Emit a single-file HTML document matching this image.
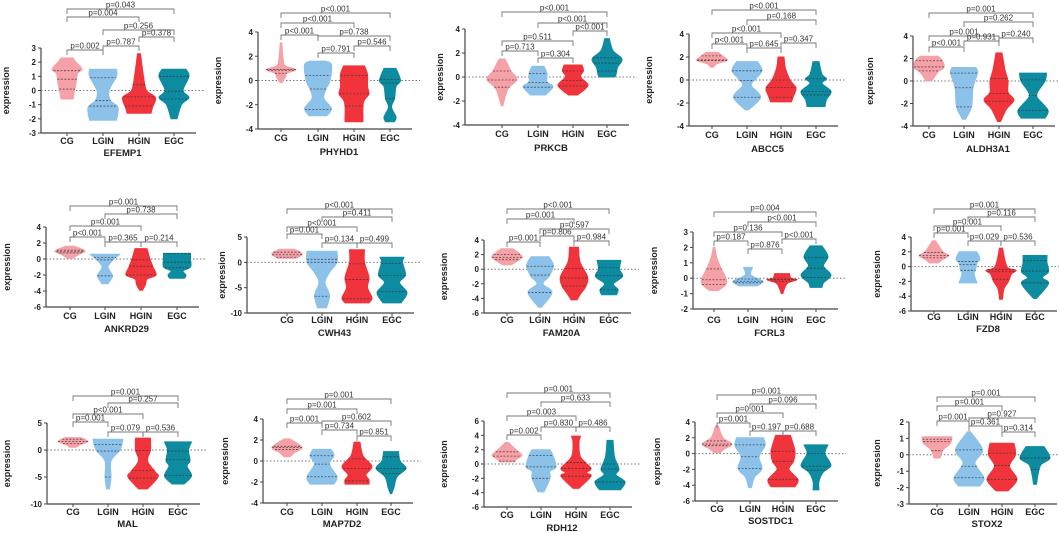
<!DOCTYPE html>
<html><head><meta charset="utf-8">
<style>
html,body{margin:0;padding:0;background:#fff;}
svg{display:block;font-family:"Liberation Sans",Arial,sans-serif;}
</style></head>
<body>
<svg id="fig" width="1059" height="533" viewBox="0 0 1059 533"></svg>
<script>
const categories = ["CG","LGIN","HGIN","EGC"];
const colors = ["#f6a0a8","#8cc1ea","#f1343c","#0c8ba1"];
const genes = ["EFEMP1","PHYHD1","PRKCB","ABCC5","ALDH3A1","ANKRD29","CWH43","FAM20A","FCRL3","FZD8","MAL","MAP7D2","RDH12","SOSTDC1","STOX2"];

// violin profiles: [value, relative half-width] per group
const EFEMP1_shapes = [
 [[2.3,0.4],[2.0,0.6],[1.5,1],[1.2,0.7],[0.5,0.6],[0,0.5],[-0.6,0.4]],
 [[1.5,0.9],[1.0,0.9],[0,0.4],[-0.7,0.5],[-1.2,1],[-2.1,0.9]],
 [[2.6,0.1],[1,0.3],[0,0.5],[-0.5,1.1],[-1.2,0.9],[-1.6,0.8]],
 [[1.5,0.8],[1,1],[0,0.6],[-0.5,1],[-1,0.5],[-2,0.2]]];
const EFEMP1_quart = [[1.4,0.8,0.1],[0.9,-0.7,-1.1],[0.4,-0.45,-1.1],[1,-0.05,-0.6]];
const PHYHD1_shapes = [
 [[3.1,0.05],[1.7,0.15],[1.2,0.3],[0.9,1],[0.6,0.4],[0.3,0.3],[-0.2,0.05]],
 [[1.6,0.5],[1.3,0.9],[0,0.8],[-0.8,0.5],[-1.5,0.4],[-2.3,0.9],[-2.9,0.6]],
 [[1.2,0.7],[0.5,0.9],[-0.5,0.9],[-1.1,1],[-1.6,0.7],[-2.1,0.6],[-3.4,0.6]],
 [[1,0.4],[0,0.7],[-0.5,0.4],[-1.5,0.3],[-2.2,0.1],[-3,0.4],[-3.4,0.3]]];
const PHYHD1_quart = [[0.9,0.85,0.6],[0.4,-0.7,-2.4],[0.4,-1.1,-2.1],[0.1,-0.2,-1.5]];
const PRKCB_shapes = [
 [[1.5,0.2],[0.5,0.6],[-0.2,1],[-1,0.4],[-2.4,0.05]],
 [[0.9,0.4],[0.3,0.6],[-0.4,0.6],[-0.8,1],[-1.5,0.5]],
 [[1,0.6],[0.5,0.7],[0,0.5],[-0.7,1],[-1.5,0.3]],
 [[3.2,0.15],[2.2,0.4],[1.5,1],[0.8,0.7],[0.2,0.6],[0,0.5]]];
const PRKCB_quart = [[0.5,-0.25,-0.85],[0.3,-0.45,-0.85],[0.5,-0.3,-0.75],[1.6,1.15,0.5]];
const ABCC5_shapes = [
 [[2.4,0.4],[2,0.8],[1.7,1],[1.4,0.3],[1.1,0.1]],
 [[1.6,0.7],[0.8,1],[0,0.5],[-0.5,0.3],[-1.5,0.9],[-2.6,0.1]],
 [[2,0.2],[1,0.3],[0,0.6],[-0.7,1],[-1.5,0.8],[-1.9,0.7]],
 [[1.6,0.2],[0.5,0.4],[0.1,0.7],[-0.3,0.4],[-1,1],[-1.7,0.7],[-2.3,0.6]]];
const ABCC5_quart = [[2.1,1.75,1.7],[0.8,-0.05,-1.5],[0,-0.65,-1.5],[0.1,-1,-1.3]];
const ALDH3A1_shapes = [
 [[2.2,0.6],[1.8,0.9],[1.2,1],[0.8,0.6],[0,0.2]],
 [[1.2,0.8],[0.7,0.9],[-0.6,0.6],[-2.3,0.5],[-3.4,0.1]],
 [[2.5,0.2],[1,0.4],[0,0.6],[-1,0.6],[-1.7,1],[-2.5,0.5],[-3.6,0.1]],
 [[0.7,0.9],[0,0.8],[-1,0.3],[-1.5,0.3],[-2.6,1],[-3.3,0.8]]];
const ALDH3A1_quart = [[1.8,1.25,0.9],[0.7,-0.6,-2.3],[0.2,-1.1,-1.8],[0.1,-1.3,-2.6]];
const ANKRD29_shapes = [
 [[1.6,0.3],[1,1],[0.6,0.6],[0.1,0.2]],
 [[0.6,1],[0,0.6],[-1,0.2],[-2.1,0.5],[-3.1,0.2]],
 [[1.3,0.4],[0,0.6],[-1,0.8],[-2,1],[-2.5,0.4],[-3.2,0.3],[-3.9,0.1]],
 [[0.7,0.9],[0,0.9],[-1,0.9],[-1.5,0.4],[-2,0.6],[-2.4,0.5]]];
const ANKRD29_quart = [[1.1,0.9,0.75],[0.2,-0.1,-2.1],[-0.1,-0.9,-2],[0.7,-0.4,-1.1]];
const CWH43_shapes = [
 [[2.6,0.5],[2,0.9],[1.5,1],[0.8,0.6]],
 [[2.2,1],[0,1],[-2,0.5],[-4,0.2],[-6.5,0.5],[-9,0.3]],
 [[2.5,0.5],[0,0.5],[-3,0.8],[-5,0.7],[-7,1],[-8,0.8]],
 [[1,0.8],[0,0.7],[-2.5,0.9],[-4,0.5],[-6,1],[-8,0.6]]];
const CWH43_quart = [[2,1.5,1],[0.6,0,-6.7],[-0.3,-3.4,-7.2],[-0.2,-2.6,-5.8]];
const FAM20A_shapes = [
 [[2.8,0.4],[2,0.9],[1.6,1],[1,0.6],[0.6,0.3]],
 [[1.7,0.6],[0.5,0.9],[-1,0.6],[-2,0.2],[-3.2,0.8],[-5.2,0.1]],
 [[3,0.3],[1,0.4],[-1,0.9],[-2.3,0.8],[-3.5,0.4],[-4.2,0.2]],
 [[1.2,0.8],[0,0.7],[-1,0.9],[-2,0.3],[-2.8,0.6],[-3.5,0.5]]];
const FAM20A_quart = [[2,1.6,1.3],[0.4,-0.8,-3.2],[0.1,-1.2,-2.3],[0.2,-0.9,-2.8]];
const FCRL3_shapes = [
 [[2,0.05],[1.3,0.2],[0.6,0.5],[0,0.8],[-0.4,0.8],[-0.8,0.3]],
 [[0.7,0.3],[0.2,0.2],[-0.2,1],[-0.5,0.6]],
 [[0.3,0.5],[0,0.6],[-0.1,1],[-0.3,0.4],[-0.6,0.2],[-1,0.05]],
 [[2.1,0.4],[1.4,0.8],[0.8,0.5],[0.2,1],[-0.3,0.5],[-0.6,0.4]]];
const FCRL3_quart = [[0.6,-0.1,-0.4],[-0.05,-0.2,-0.3],[-0.05,-0.1,-0.2],[1.35,0.65,0.05]];
const FZD8_shapes = [
 [[3.5,0.1],[2,0.6],[1.5,1],[1,0.6],[0.5,0.3]],
 [[2,0.6],[1,0.8],[0.5,0.6],[-0.5,0.5],[-1,0.4],[-2.2,0.6]],
 [[2.5,0.1],[0,0.4],[-0.5,1],[-1,0.7],[-2,0.5],[-3,0.2],[-4.4,0.1]],
 [[1.5,0.8],[0.5,0.8],[-0.7,0.9],[-1.5,0.5],[-2.3,0.9],[-4.3,0.1]]];
const FZD8_quart = [[1.9,1.5,1.2],[0.7,0.3,-0.5],[-0.4,-0.7,-1.7],[0.8,-0.6,-2.2]];
const MAL_shapes = [
 [[2.3,0.5],[1.6,1],[1,0.5],[0.5,0.2]],
 [[2,1],[0,0.8],[-2,0.2],[-5,0.2],[-7.2,0.1]],
 [[2.2,0.5],[0,0.5],[-2,0.3],[-4,0.8],[-5,1],[-7.2,0.3]],
 [[1.5,0.9],[0,0.7],[-2,0.8],[-3,0.6],[-4.8,0.9],[-6.3,0.4]]];
const MAL_quart = [[2,1.6,1.2],[1,-0.2,-5],[-0.1,-3.8,-5.2],[-0.2,-1.8,-4.7]];
const MAP7D2_shapes = [
 [[2.1,0.2],[1.3,1],[0.8,0.5],[0.4,0.2]],
 [[1.1,0.6],[0.5,0.8],[-0.3,0.5],[-1.5,1],[-2.2,0.8]],
 [[1.8,0.2],[0.5,0.4],[-0.5,1],[-1.3,0.6],[-1.8,0.8],[-2.2,0.8]],
 [[0.9,0.5],[0,0.6],[-0.7,1],[-1.5,0.4],[-2.5,0.2],[-3.1,0.05]]];
const MAP7D2_quart = [[1.4,1.3,1.1],[0.5,-0.3,-1.5],[0.2,-0.7,-1.9],[0.4,-0.7,-1.2]];
const RDH12_shapes = [
 [[3,0.1],[1.8,0.7],[1.2,1],[0.6,0.6],[0.3,0.5]],
 [[2,0.6],[1.2,0.8],[-0.4,1],[-1,0.6],[-2,0.6],[-3.9,0.2]],
 [[3.9,0.3],[3,0.2],[1,0.3],[-0.6,1],[-1.2,0.7],[-1.7,1],[-3.4,0.2]],
 [[3.3,0.2],[1,0.3],[-0.7,0.6],[-1.5,0.4],[-2.5,1],[-3.6,0.7]]];
const RDH12_quart = [[1.7,1.1,0.4],[1.2,-0.4,-2],[0.2,-0.6,-1.7],[0,-0.7,-2.5]];
const SOSTDC1_shapes = [
 [[3.5,0.1],[2,0.4],[1.2,1],[0.6,0.5],[0.1,0.2]],
 [[2,0.9],[1,1],[-0.4,0.6],[-1.9,0.8],[-3,0.3],[-4.3,0.1]],
 [[2.3,0.5],[0.3,0.8],[-1,0.7],[-2,0.4],[-3.3,1],[-4.2,0.8]],
 [[1.1,0.8],[0,0.6],[-1.5,1],[-2.3,0.5],[-3.5,0.2],[-4.6,0.2]]];
const SOSTDC1_quart = [[1.6,1.2,1],[1.1,-0.4,-1.9],[0.3,-1,-3.3],[0,-1.6,-2.1]];
const STOX2_shapes = [
 [[1.1,1],[0.7,0.9],[0.3,0.4],[-0.2,0.2]],
 [[1.4,0.1],[0.3,0.9],[-0.5,0.4],[-1.4,1],[-1.9,0.7]],
 [[0.7,0.8],[0,0.9],[-0.7,0.5],[-1.5,1],[-2.2,0.4]],
 [[0.5,0.6],[-0.2,1],[-0.6,0.4],[-1.2,0.2],[-1.8,0.1]]];
const STOX2_quart = [[0.95,0.8,0.25],[0.3,-0.7,-1.4],[0.1,-0.65,-1.5],[-0.2,-0.2,-0.9]];

const allShapes = [EFEMP1_shapes,PHYHD1_shapes,PRKCB_shapes,ABCC5_shapes,ALDH3A1_shapes,ANKRD29_shapes,CWH43_shapes,FAM20A_shapes,FCRL3_shapes,FZD8_shapes,MAL_shapes,MAP7D2_shapes,RDH12_shapes,SOSTDC1_shapes,STOX2_shapes];
const allQuart = [EFEMP1_quart,PHYHD1_quart,PRKCB_quart,ABCC5_quart,ALDH3A1_quart,ANKRD29_quart,CWH43_quart,FAM20A_quart,FCRL3_quart,FZD8_quart,MAL_quart,MAP7D2_quart,RDH12_quart,SOSTDC1_quart,STOX2_quart];
const yRanges = [[-3,3,1],[-4,4,2],[-4,4,2],[-4,4,2],[-4,4,2],[-6,4,2],[-10,5,5],[-6,4,2],[-2,3,1],[-6,4,2],[-10,5,5],[-4,4,2],[-6,6,2],[-6,4,2],[-3,2,1]];
const pvals = [
 [[0,3,"p=0.043"],[0,2,"p=0.004"],[1,3,"p=0.256"],[2,3,"p=0.378"],[0,1,"p=0.002"],[1,2,"p=0.787"]],
 [[0,3,"p<0.001"],[0,2,"p<0.001"],[0,1,"p<0.001"],[1,3,"p=0.738"],[1,2,"p=0.791"],[2,3,"p=0.546"]],
 [[0,3,"p<0.001"],[1,3,"p<0.001"],[2,3,"p<0.001"],[0,2,"p=0.511"],[0,1,"p=0.713"],[1,2,"p=0.304"]],
 [[0,3,"p<0.001"],[1,3,"p=0.168"],[0,2,"p<0.001"],[0,1,"p<0.001"],[1,2,"p=0.645"],[2,3,"p=0.347"]],
 [[0,3,"p=0.001"],[1,3,"p=0.262"],[0,2,"p=0.001"],[0,1,"p<0.001"],[1,2,"p=0.931"],[2,3,"p=0.240"]],
 [[0,3,"p=0.001"],[1,3,"p=0.738"],[0,2,"p=0.001"],[0,1,"p<0.001"],[1,2,"p=0.365"],[2,3,"p=0.214"]],
 [[0,3,"p<0.001"],[1,3,"p=0.411"],[0,2,"p<0.001"],[0,1,"p=0.001"],[1,2,"p=0.134"],[2,3,"p=0.499"]],
 [[0,3,"p<0.001"],[0,2,"p=0.001"],[1,3,"p=0.597"],[1,2,"p=0.806"],[0,1,"p=0.001"],[2,3,"p=0.984"]],
 [[0,3,"p=0.004"],[1,3,"p<0.001"],[0,2,"p=0.136"],[0,1,"p=0.187"],[1,2,"p=0.876"],[2,3,"p<0.001"]],
 [[0,3,"p=0.001"],[1,3,"p=0.116"],[0,2,"p=0.001"],[0,1,"p=0.001"],[1,2,"p=0.029"],[2,3,"p=0.536"]],
 [[0,3,"p=0.001"],[1,3,"p=0.257"],[0,2,"p<0.001"],[0,1,"p=0.001"],[1,2,"p=0.079"],[2,3,"p=0.536"]],
 [[0,3,"p=0.001"],[0,2,"p=0.001"],[0,1,"p=0.001"],[1,3,"p=0.602"],[1,2,"p=0.734"],[2,3,"p=0.851"]],
 [[0,3,"p=0.001"],[1,3,"p=0.633"],[0,2,"p=0.003"],[0,1,"p=0.002"],[1,2,"p=0.830"],[2,3,"p=0.486"]],
 [[0,3,"p=0.001"],[1,3,"p=0.096"],[0,2,"p=0.001"],[0,1,"p=0.001"],[1,2,"p=0.197"],[2,3,"p=0.688"]],
 [[0,3,"p=0.001"],[0,2,"p=0.001"],[1,3,"p=0.927"],[0,1,"p=0.001"],[1,2,"p=0.361"],[2,3,"p=0.314"]]];

const layout = [
 {ax:41,top:48,bot:133,cx:[67,103,139,174],cy:144,gy:156,yl:9,by:[9,17,30,37,50,46]},
 {ax:258,top:32,bot:129,cx:[281,318,354,390],cy:141,gy:155,yl:221,by:[13,23,35,36,53,46]},
 {ax:465,top:29,bot:125,cx:[502,538,573,607],cy:137,gy:151,yl:443,by:[12,23,31,41,51,58]},
 {ax:689,top:34,bot:126,cx:[712,747,781,816],cy:138,gy:152,yl:652,by:[10,20,33,44,48,43]},
 {ax:913,top:36,bot:126,cx:[929,964,999,1033],cy:138,gy:152,yl:873,by:[13,22,36,47,41,38]},
 {ax:46,top:227,bot:307,cx:[70,105,141,177],cy:319,gy:332,yl:10,by:[206,214,226,237,242,242]},
 {ax:247,top:237,bot:313,cx:[287,322,357,392],cy:323,gy:336,yl:225,by:[209,217,227,234,243,243]},
 {ax:484,top:240,bot:313,cx:[507,540,574,609],cy:323,gy:336,yl:447,by:[209,219,229,236,242,241]},
 {ax:693,top:232,bot:309,cx:[714,748,782,816],cy:323,gy:336,yl:657,by:[212,222,232,241,249,239]},
 {ax:911,top:237,bot:311,cx:[934,968,1001,1035],cy:320,gy:332,yl:880,by:[209,217,226,233,241,241]},
 {ax:47,top:423,bot:504,cx:[73,108,143,178],cy:515,gy:527,yl:10,by:[396,403,414,422,432,432]},
 {ax:263,top:419,bot:503,cx:[287,322,357,391],cy:515,gy:527,yl:228,by:[399,409,423,421,430,436]},
 {ax:484,top:421,bot:507,cx:[507,541,576,610],cy:518,gy:531,yl:447,by:[393,402,416,435,427,427]},
 {ax:695,top:422,bot:501,cx:[717,750,783,816],cy:512,gy:524,yl:660,by:[395,404,413,423,431,431]},
 {ax:909,top:422,bot:504,cx:[937,969,1002,1035],cy:515,gy:527,yl:880,by:[397,406,418,421,426,432]}];

const NS = "http://www.w3.org/2000/svg";
const svg = document.getElementById("fig");
function mk(tag, attrs, parent, text){
  const e = document.createElementNS(NS, tag);
  for (const k in attrs) e.setAttribute(k, attrs[k]);
  if (text !== undefined) e.textContent = text;
  parent.appendChild(e);
  return e;
}
// smooth open curve through points (Catmull-Rom -> cubic Bezier)
function smoothSeg(pts){
  let d = "";
  for (let i = 0; i < pts.length - 1; i++) {
    const p0 = pts[Math.max(i-1,0)], p1 = pts[i], p2 = pts[i+1], p3 = pts[Math.min(i+2,pts.length-1)];
    const c1 = [p1[0] + (p2[0]-p0[0])/6, p1[1] + (p2[1]-p0[1])/6];
    const c2 = [p2[0] - (p3[0]-p1[0])/6, p2[1] - (p3[1]-p1[1])/6];
    d += " C" + c1[0].toFixed(1)+","+c1[1].toFixed(1)+" "+c2[0].toFixed(1)+","+c2[1].toFixed(1)+" "+p2[0].toFixed(1)+","+p2[1].toFixed(1);
  }
  return d;
}

genes.forEach((gene, pi) => {
  const L = layout[pi], R = yRanges[pi];
  const yScale = v => L.top + (R[1] - v) / (R[1] - R[0]) * (L.bot - L.top);
  const g = mk("g", {}, svg);
  
  
  const right = L.cx[3] + 22;
  const yAxis = mk("line", {x1:L.ax,y1:L.top,x2:L.ax,y2:L.bot,stroke:"#444","stroke-width":1.2}, g);
  
  
  const xAxis = mk("line", {x1:L.ax,y1:L.bot,x2:right,y2:L.bot,stroke:"#444","stroke-width":1.2}, g);
  
  
  for (let v = R[0]; v <= R[1] + 1e-9; v += R[2]) {
    const y = yScale(v);
    mk("line", {x1:L.ax-3,y1:y,x2:L.ax,y2:y,stroke:"#444","stroke-width":1}, g);
    const t = mk("text", {x:L.ax-5,y:y+3,"font-size":8,"text-anchor":"end",fill:"#222","font-weight":"bold"}, g, String(v));
    
    
  }
  const z = mk("line", {x1:L.ax,y1:yScale(0),x2:right+8,y2:yScale(0),stroke:"#777","stroke-width":1,"stroke-dasharray":"1.5,2"}, g);
  
  
  allShapes[pi].forEach((prof, gi) => {
    const cx = L.cx[gi], W = 15;
    const rightPts = prof.map(p => [cx + p[1]*W, yScale(p[0])]);
    const leftPts = prof.slice().reverse().map(p => [cx - p[1]*W, yScale(p[0])]);
    let d = "M" + rightPts[0][0].toFixed(1) + "," + rightPts[0][1].toFixed(1) + smoothSeg(rightPts);
    d += " L" + leftPts[0][0].toFixed(1) + "," + leftPts[0][1].toFixed(1) + smoothSeg(leftPts) + " Z";
    const v = mk("path", {d:d, fill:colors[gi], stroke:colors[gi], "stroke-width":1, "stroke-linejoin":"round"}, g);
    
    
    const widthAt = val => {
      for (let i = 0; i < prof.length - 1; i++) {
        const a = prof[i], b = prof[i+1];
        if (val <= a[0] && val >= b[0]) { const t = (a[0]-val)/(a[0]-b[0] || 1); return (a[1] + (b[1]-a[1])*t) * W; }
      }
      return 2;
    };
    allQuart[pi][gi].forEach(q => {
      const hw = widthAt(q), y = yScale(q);
      const ql = mk("line", {x1:cx-hw,y1:y,x2:cx+hw,y2:y,stroke:"#333","stroke-width":0.8,"stroke-dasharray":"2,1.5",opacity:0.8}, g);
      
      
    });
    mk("line", {x1:cx,y1:L.bot,x2:cx,y2:L.bot+3,stroke:"#444","stroke-width":1}, g);
    const cl = mk("text", {x:cx,y:L.cy,"font-size":9,"text-anchor":"middle",fill:"#222","font-weight":"bold"}, g, categories[gi]);
    
    
  });
  const gl = mk("text", {x:(L.ax + right)/2 + 4,y:L.gy,"font-size":9.5,"text-anchor":"middle",fill:"#222","font-weight":"bold"}, g, gene);
  
  
  const ylY = (L.top + L.bot)/2;
  const yl = mk("text", {x:L.yl,y:ylY,"font-size":9,"text-anchor":"middle",fill:"#222","font-weight":"bold",transform:"rotate(-90 "+L.yl+" "+ylY+")"}, g, "expression");
  
  
  pvals[pi].forEach((p, bi) => {
    const x1 = L.cx[p[0]], x2 = L.cx[p[1]], y = L.by[bi];
    const b = mk("path", {d:"M"+x1+","+(y+5)+" L"+x1+","+y+" L"+x2+","+y+" L"+x2+","+(y+5), fill:"none", stroke:"#777","stroke-width":0.9}, g);
    
    
    const t = mk("text", {x:(x1+x2)/2,y:y-1.5,"font-size":8,"text-anchor":"middle",fill:"#333"}, g, p[2]);
    
    
  });
});
</script>
</body></html>
